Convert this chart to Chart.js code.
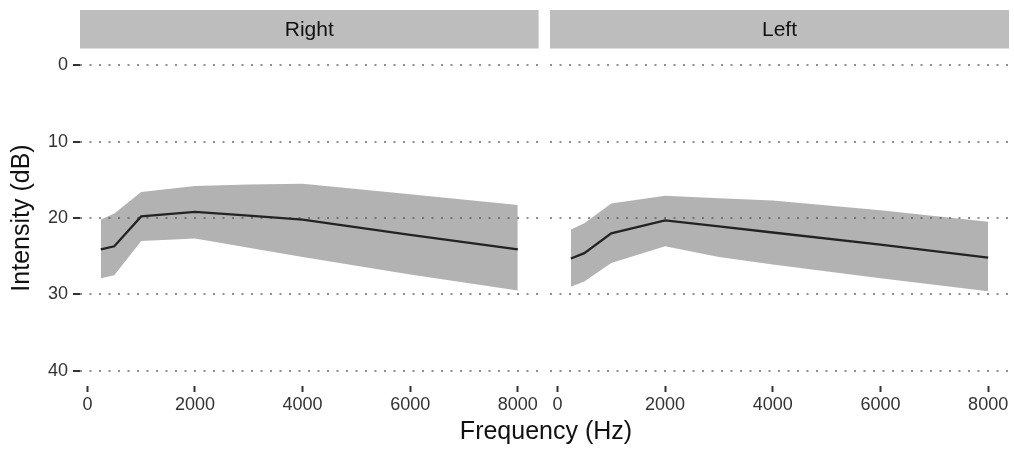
<!DOCTYPE html>
<html>
<head>
<meta charset="utf-8">
<title>Intensity by frequency</title>
<script src="https://cdn.jsdelivr.net/npm/chart.js"></script>
<style>
  body { margin: 0; background: #fff; }
  #wrap { position: relative; width: 1014px; height: 450px; font-family: "Liberation Sans", Arial, sans-serif; }
  canvas { position: absolute; top: 0; }
  #xtitle { position: absolute; left: 346px; width: 400px; top: 418px; text-align: center;
            font-size: 25px; line-height: 25px; color: #111; }
</style>
</head>
<body>
<div id="wrap">
  <canvas id="rightChart" width="545" height="450" style="left:0"></canvas>
  <canvas id="leftChart" width="469" height="450" style="left:545px"></canvas>
  <div id="xtitle">Frequency (Hz)</div>
</div>
<script>
// data (dB)
const freqs = [250, 500, 1000, 2000, 3000, 4000, 6000, 8000];

const rightMean = [24.1, 23.7, 19.8, 19.2, 19.7, 20.2, 22.2, 24.1];
const rightLow = [20.2, 19.4, 16.6, 15.8, 15.6, 15.5, 16.9, 18.3];
const rightHigh = [27.9, 27.5, 23.0, 22.7, 23.9, 25.1, 27.4, 29.5];

const leftMean = [25.3, 24.6, 22.0, 20.3, 21.1, 21.9, 23.5, 25.2];
const leftLow = [21.5, 20.7, 18.1, 17.1, 17.4, 17.7, 19.0, 20.5];
const leftHigh = [29.0, 28.3, 25.9, 23.7, 25.1, 26.1, 27.9, 29.6];

const xTicks = [0, 2000, 4000, 6000, 8000];
const yTicks = [0, 10, 20, 30, 40];

const font = "'Liberation Sans', Arial, sans-serif";
const ribbonColor = "rgba(80, 80, 80, 0.44)";

// grey facet strip above each panel
const stripPlugin = {
  id: "strip",
  afterDraw(chart, args, opts) {
    const { ctx, chartArea } = chart;
    ctx.save();
    ctx.fillStyle = "#bdbdbd";
    ctx.fillRect(chartArea.left, 10, chartArea.right - chartArea.left, 38.5);
    ctx.fillStyle = "#111";
    ctx.font = "21px " + font;
    ctx.textAlign = "center";
    ctx.textBaseline = "middle";
    ctx.fillText(opts.label, (chartArea.left + chartArea.right) / 2, 30);
    ctx.restore();
  },
};

function toPoints(vals) {
  return freqs.map((f, i) => ({ x: f, y: vals[i] }));
}

function makePanel(id, label, mean, low, high, showY, padding) {
  const ctx = document.getElementById(id).getContext("2d");
  return new Chart(ctx, {
    type: "line",
    data: {
      datasets: [
        {
          data: toPoints(low),
          borderWidth: 0,
          pointRadius: 0,
          backgroundColor: ribbonColor,
          fill: "+1",
        },
        {
          data: toPoints(high),
          borderWidth: 0,
          pointRadius: 0,
          fill: false,
        },
        {
          data: toPoints(mean),
          borderColor: "#000",
          borderWidth: 2.3,
          pointRadius: 0,
          fill: false,
        },
      ],
    },
    options: {
      responsive: false,
      animation: false,
      layout: { padding: padding },
      scales: {
        x: {
          type: "linear",
          min: -137.5,
          max: 8387.5,
          afterBuildTicks: (scale) => {
            scale.ticks = xTicks.map((v) => ({ value: v }));
          },
          afterFit: (scale) => {
            scale.height = 64;
          },
          grid: {
            drawOnChartArea: false,
            drawTicks: true,
            tickLength: 6,
            tickWidth: 2,
            tickColor: "#333",
            tickBorderDash: [],
          },
          border: { display: false },
          ticks: {
            padding: 2,
            color: "#333",
            font: { family: font, size: 18 },
            callback: (v) => String(v),
          },
        },
        y: {
          type: "linear",
          reverse: true,
          min: -2,
          max: 42,
          afterBuildTicks: (scale) => {
            scale.ticks = yTicks.map((v) => ({ value: v }));
          },
          afterFit: (scale) => {
            scale.width = showY ? 80 : 0;
          },
          grid: {
            color: "#8f8f8f",
            lineWidth: 2,
            drawTicks: showY,
            tickLength: 7,
            tickWidth: 2,
            tickColor: "#333",
            tickBorderDash: [],
          },
          border: { display: false, dash: [2, 7.5] },
          ticks: {
            display: showY,
            padding: 5,
            color: "#333",
            font: { family: font, size: 18 },
            callback: (v) => String(v),
          },
          title: {
            display: showY,
            text: "Intensity (dB)",
            color: "#111",
            font: { family: font, size: 25 },
            padding: { top: 7, bottom: 0 },
          },
        },
      },
      plugins: {
        legend: { display: false },
        tooltip: { enabled: false },
        strip: { label: label },
      },
    },
    plugins: [stripPlugin],
  });
}

makePanel("rightChart", "Right", rightMean, rightLow, rightHigh, true,
  { top: 50, right: 6.4, left: 0, bottom: 0 });
makePanel("leftChart", "Left", leftMean, leftLow, leftHigh, false,
  { top: 50, right: 5, left: 5, bottom: 0 });
</script>
</body>
</html>
